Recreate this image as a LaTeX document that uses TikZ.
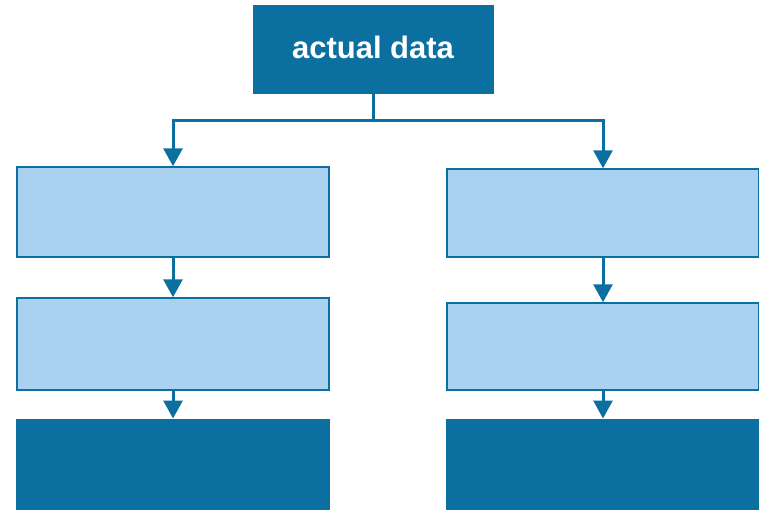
\documentclass[tikz,border=0pt]{standalone}
\usepackage{fontspec}
\setsansfont{Liberation Sans}
\usetikzlibrary{arrows.meta}

\definecolor{darkblue}{HTML}{0B6FA0}
\definecolor{lightblue}{HTML}{ABD1F0}

\begin{document}
\begin{tikzpicture}[x=1pt, y=-1pt,
    darkbox/.style={fill=darkblue, draw=darkblue, line width=1pt, inner sep=0pt},
    stepbox/.style={fill=lightblue, draw=darkblue, line width=1.5pt, inner sep=0pt},
    arr/.style={draw=darkblue, line width=3pt, -{Triangle[length=18pt, width=19pt]}}]
    \useasboundingbox (0,0) rectangle (759,509);

    % Top box
    \node[darkbox, minimum width=240pt, minimum height=88pt] (top) at (373,49) {};
    \node[text=white, font=\sffamily\bfseries\fontsize{31}{36}\selectfont] (toptext) at (373,47) {actual data};

    % Left column
    \node[stepbox, minimum width=312pt, minimum height=90pt] (l1) at (173,212) {};
    \node[stepbox, minimum width=312pt, minimum height=92pt] (l2) at (173,344) {};
    \node[darkbox, minimum width=313pt, minimum height=90pt] (l3) at (173,464) {};

    % Right column
    \node[stepbox, minimum width=312pt, minimum height=88pt] (r1) at (603,213) {};
    \node[stepbox, minimum width=312pt, minimum height=87pt] (r2) at (603,346.5) {};
    \node[darkbox, minimum width=313pt, minimum height=90pt] (r3) at (603,464) {};

    % Connectors
    \coordinate (split) at (373,120);
    \draw[draw=darkblue, line width=3pt] (top.south) -- (split);
    \draw[arr] (split) -| (l1.north);
    \draw[arr] (split) -| (r1.north);
    \draw[arr] (l1) -- (l2);
    \draw[arr] (l2) -- (l3);
    \draw[arr] (r1) -- (r2);
    \draw[arr] (r2) -- (r3);
\end{tikzpicture}
\end{document}
